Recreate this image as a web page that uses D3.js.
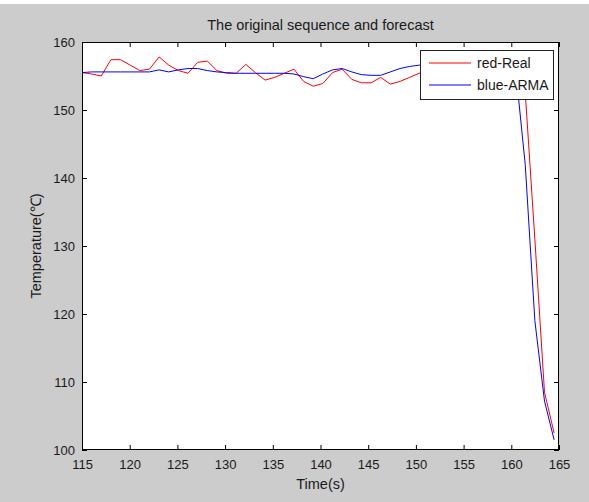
<!DOCTYPE html>
<html>
<head>
<meta charset="utf-8">
<script src="https://cdn.jsdelivr.net/npm/d3@7"></script>
<style>
  body { margin: 0; background: #cccccc; }
  text { font-family: "Liberation Sans", Arial, sans-serif; fill: #1a1a1a; }
</style>
</head>
<body>
<svg id="chart" width="589" height="502"></svg>
<script>
// time stamps (s), sampled a little over once a second
const times = [115.00, 116.01, 117.02, 118.03, 119.04, 120.05, 121.06, 122.07, 123.08, 124.09,
               125.10, 126.11, 127.12, 128.13, 129.14, 130.15, 131.16, 132.17, 133.18, 134.19,
               135.20, 136.21, 137.22, 138.23, 139.24, 140.25, 141.26, 142.27, 143.28, 144.29,
               145.30, 146.31, 147.32, 148.33, 149.34, 150.35, 151.36, 152.37, 153.38, 154.39,
               155.40, 156.41, 157.42, 158.43, 159.44, 160.45, 161.46, 162.47, 163.48, 164.49];

// measured temperature
const realTemps = [155.5, 155.3, 155.0, 157.4, 157.4, 156.6, 155.8, 156.0, 157.8, 156.6,
                   155.8, 155.4, 157.0, 157.2, 155.8, 155.4, 155.4, 156.7, 155.5, 154.4,
                   154.8, 155.4, 156.0, 154.2, 153.5, 153.9, 155.5, 156.0, 154.5, 154.0,
                   154.0, 154.8, 153.8, 154.2, 154.8, 155.4, 155.8, 156.1, 155.9, 156.3,
                   156.0, 155.7, 156.2, 156.4, 156.1, 156.0, 152.6, 131.0, 108.5, 102.5];

// ARMA forecast
const armaTemps = [155.5, 155.6, 155.6, 155.6, 155.6, 155.6, 155.6, 155.6, 155.9, 155.6,
                   155.9, 156.1, 156.1, 155.8, 155.6, 155.5, 155.4, 155.4, 155.4, 155.4,
                   155.4, 155.4, 155.3, 154.9, 154.6, 155.3, 155.9, 156.1, 155.6, 155.2,
                   155.1, 155.1, 155.6, 156.1, 156.4, 156.6, 156.6, 156.7, 156.6, 156.5,
                   156.5, 156.4, 156.4, 156.3, 156.2, 156.0, 142.0, 119.0, 107.2, 101.5];

const xTicks = [115, 120, 125, 130, 135, 140, 145, 150, 155, 160, 165];
const yTicks = [100, 110, 120, 130, 140, 150, 160];
const legendLabels = ['red-Real', 'blue-ARMA'];
const legendColors = ['#ff0000', '#0000ff'];

const svg = d3.select('#chart');
const plotLeft = 82, plotRight = 559, plotTop = 42, plotBottom = 450;
const tickLen = 5;

// white strip left over from the page above the figure
svg.append('rect').attr('x', 0).attr('y', 0).attr('width', 589).attr('height', 4).attr('fill', '#ffffff');

const x = d3.scaleLinear().domain([115, 165]).range([plotLeft, plotRight]);
const y = d3.scaleLinear().domain([100, 160]).range([plotBottom, plotTop]);

svg.append('rect')
   .attr('x', plotLeft).attr('y', plotTop)
   .attr('width', plotRight - plotLeft).attr('height', plotBottom - plotTop)
   .attr('fill', '#ffffff');

const line = d3.line().x(d => x(d[0])).y(d => y(d[1]));

svg.append('path')
   .datum(times.map((t, i) => [t, realTemps[i]]))
   .attr('d', line).attr('fill', 'none')
   .attr('stroke', '#ff0000').attr('stroke-width', 1);

svg.append('path')
   .datum(times.map((t, i) => [t, armaTemps[i]]))
   .attr('d', line).attr('fill', 'none')
   .attr('stroke', '#0000ff').attr('stroke-width', 1);

// axes, MATLAB style: inward ticks on all four sides
function styleAxis(g) {
    g.select('.domain').remove();
    g.selectAll('line').attr('stroke', '#000').attr('stroke-width', 1);
    g.selectAll('text').attr('font-size', 13).attr('fill', '#1a1a1a')
     .attr('font-family', '"Liberation Sans", Arial, sans-serif');
}

svg.append('g').attr('transform', `translate(0, ${plotBottom})`)
   .call(d3.axisBottom(x).tickValues(xTicks).tickSizeInner(-tickLen).tickSizeOuter(0).tickPadding(10))
   .call(styleAxis);

svg.append('g').attr('transform', `translate(0, ${plotTop})`)
   .call(d3.axisTop(x).tickValues(xTicks).tickSizeInner(-tickLen).tickSizeOuter(0).tickFormat(''))
   .call(styleAxis);

svg.append('g').attr('transform', `translate(${plotLeft}, 0)`)
   .call(d3.axisLeft(y).tickValues(yTicks).tickSizeInner(-tickLen).tickSizeOuter(0).tickPadding(7))
   .call(styleAxis);

svg.append('g').attr('transform', `translate(${plotRight}, 0)`)
   .call(d3.axisRight(y).tickValues(yTicks).tickSizeInner(-tickLen).tickSizeOuter(0).tickFormat(''))
   .call(styleAxis);

svg.append('rect')
   .attr('x', plotLeft + 0.5).attr('y', plotTop + 0.5)
   .attr('width', plotRight - plotLeft - 1).attr('height', plotBottom - plotTop - 1)
   .attr('fill', 'none').attr('stroke', '#000');

// titles
svg.append('text')
   .attr('x', (plotLeft + plotRight) / 2).attr('y', 30)
   .attr('text-anchor', 'middle').attr('font-size', 14.5)
   .text('The original sequence and forecast');

svg.append('text')
   .attr('x', (plotLeft + plotRight) / 2).attr('y', 489)
   .attr('text-anchor', 'middle').attr('font-size', 14.5)
   .text('Time(s)');

svg.append('text')
   .attr('transform', `translate(41, ${(plotTop + plotBottom) / 2}) rotate(-90)`)
   .attr('text-anchor', 'middle').attr('font-size', 14.5)
   .text('Temperature(℃)');

// legend
const legend = svg.append('g').attr('transform', 'translate(420, 50)');
legend.append('rect')
      .attr('x', 0.5).attr('y', 0.5).attr('width', 133).attr('height', 49)
      .attr('fill', '#ffffff').attr('stroke', '#222').attr('stroke-width', 1);

legendLabels.forEach((label, i) => {
    const ly = 13 + i * 22;
    legend.append('line')
          .attr('x1', 9).attr('x2', 51).attr('y1', ly).attr('y2', ly)
          .attr('stroke', legendColors[i]).attr('stroke-width', 1);
    legend.append('text')
          .attr('x', 57).attr('y', ly + 5)
          .attr('font-size', 14)
          .text(label);
});
</script>
</body>
</html>
